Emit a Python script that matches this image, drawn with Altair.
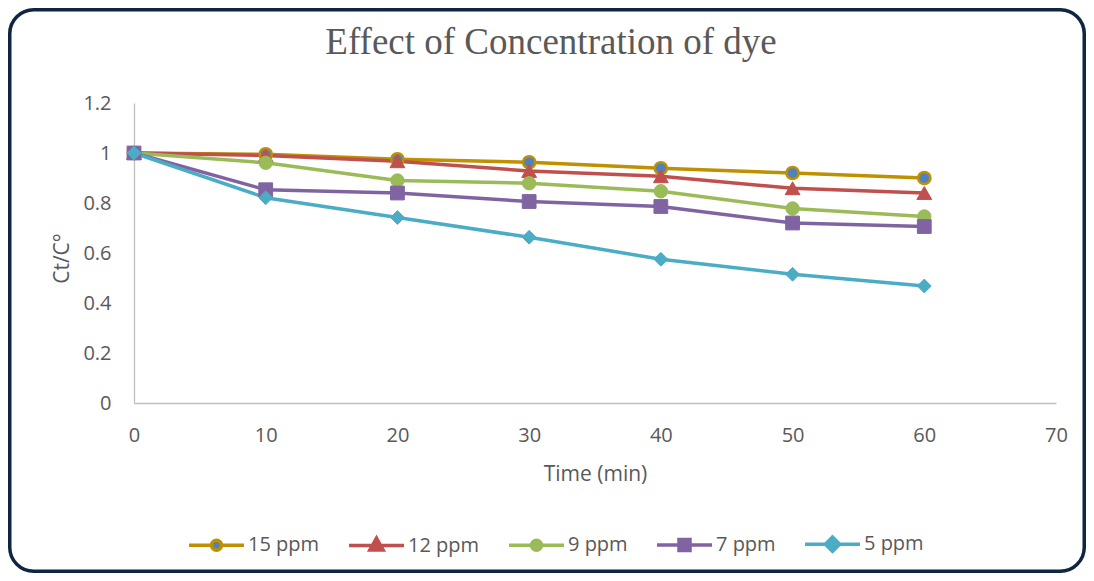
import altair as alt
import pandas as pd

# ---- data ----
times = [0, 10, 20, 30, 40, 50, 60]
series_names = ["15 ppm", "12 ppm", "9 ppm", "7 ppm", "5 ppm"]
c15 = [1.0, 0.995, 0.975, 0.963, 0.939, 0.920, 0.900]
c12 = [1.0, 0.990, 0.967, 0.928, 0.907, 0.859, 0.840]
c9 = [1.0, 0.961, 0.890, 0.879, 0.847, 0.778, 0.746]
c7 = [1.0, 0.853, 0.840, 0.806, 0.786, 0.720, 0.706]
c5 = [1.0, 0.821, 0.742, 0.663, 0.575, 0.515, 0.468]
x_ticks = [0, 10, 20, 30, 40, 50, 60, 70]
y_ticks = [0, 0.2, 0.4, 0.6, 0.8, 1.0, 1.2]

values = {"15 ppm": c15, "12 ppm": c12, "9 ppm": c9, "7 ppm": c7, "5 ppm": c5}
rows = []
for s in series_names:
    for t, v in zip(times, values[s]):
        rows.append({"series": s, "time": t, "value": v})
df = pd.DataFrame(rows)

# ---- styles ----
line_colors = ["#BF9000", "#C0504D", "#9BBB59", "#8064A2", "#4BACC6"]
fill_colors = ["#4F81BD", "#C0504D", "#9BBB59", "#8064A2", "#4BACC6"]
label_col = "#595959"
font = "Open Sans"

circ = "M-1,0L-0.18,0M0.18,0L1,0M-0.18,0A0.18,0.18 0 1,1 0.18,0A0.18,0.18 0 1,1 -0.18,0Z"
tri = "M-1,0L1,0M0,-0.27L-0.24,0.16L0.24,0.16Z"
sq = "M-1,0L1,0M-0.2,-0.2L0.2,-0.2L0.2,0.2L-0.2,0.2Z"
dia = "M-1,0L1,0M0,-0.26L0.26,0L0,0.26L-0.26,0Z"
legend_paths = [circ, tri, circ, sq, dia]

stroke_scale = alt.Scale(domain=series_names, range=line_colors)
fill_scale = alt.Scale(domain=series_names, range=fill_colors)
shape_scale = alt.Scale(domain=series_names, range=legend_paths)

W, H = 922, 300
PAD = {"left": 126, "top": 95, "right": 30, "bottom": 170}

leg = alt.Legend(title=None, orient="none", legendX=53, legendY=411.5,
                 direction="horizontal", columns=5, symbolSize=3025,
                 symbolStrokeWidth=3.5, labelFont=font, labelFontSize=20,
                 labelColor=label_col, labelOffset=2, columnPadding=22,
                 padding=0, symbolOpacity=1)

xenc = alt.X("time:Q", scale=alt.Scale(domain=[0, 70], nice=False),
             axis=alt.Axis(values=x_ticks, title="Time (min)", labelPadding=22,
                           labelFlush=False,
                           titleY=60, titleBaseline="top", titleFontSize=21))
yenc = alt.Y("value:Q", scale=alt.Scale(domain=[0, 1.2], nice=False),
             axis=alt.Axis(values=y_ticks, format="~g", title="Ct/C°", labelPadding=23,
                           labelFlush=False,
                           titleX=-66, titleY=155, titleAngle=270, titleAlign="center",
                           titleBaseline="alphabetic", titleFontSize=21))

frame = alt.Chart(alt.InlineData(values=[{"f": 1}])).mark_rect(
    cornerRadius=24, fillOpacity=0, fill="white", stroke="#10253F", strokeWidth=3.5
).encode(
    x=alt.value(-PAD["left"] + 1.75), x2=alt.value(W + PAD["right"] - 1.75),
    y=alt.value(-PAD["top"] + 1.75), y2=alt.value(H + PAD["bottom"] - 1.75),
)

lines = alt.Chart(df).mark_line(strokeWidth=3.5).encode(
    x=xenc, y=yenc,
    stroke=alt.Stroke("series:N", scale=stroke_scale, legend=leg),
    detail="series:N",
)

def pts(shape, names, size, sw):
    return alt.Chart(df).transform_filter(
        alt.FieldOneOfPredicate(field="series", oneOf=names)
    ).mark_point(filled=True, shape=shape, size=size, strokeWidth=sw, opacity=1).encode(
        x=xenc, y=yenc,
        fill=alt.Fill("series:N", scale=fill_scale, legend=leg),
        stroke=alt.Stroke("series:N", scale=stroke_scale, legend=leg),
    )

p15 = pts("circle", ["15 ppm"], 150, 2.5)
p9 = pts("circle", ["9 ppm"], 180, 1)
p12 = pts("triangle-up", ["12 ppm"], 220, 1)
p7 = pts("square", ["7 ppm"], 190, 1)
p5 = pts("diamond", ["5 ppm"], 190, 1)

legend_layer = alt.Chart(df).mark_point(
    filled=True, clip=True, size=3025, strokeWidth=3.5, opacity=1
).encode(
    x=alt.X("time:Q"),
    y=alt.YDatum(-1),
    fill=alt.Fill("series:N", scale=fill_scale, legend=leg),
    stroke=alt.Stroke("series:N", scale=stroke_scale, legend=leg),
    shape=alt.Shape("series:N", scale=shape_scale, legend=leg),
)

chart = alt.layer(frame, lines, p15, p12, p9, p7, p5, legend_layer).properties(
    width=W, height=H,
    padding=PAD,
    autosize=alt.AutoSizeParams(type="none"),
    title=alt.Title("Effect of Concentration of dye", font="Liberation Serif",
                    fontSize=37, fontWeight="normal", color=label_col,
                    anchor="middle", dx=-44, dy=83, offset=0, baseline="alphabetic"),
).configure_view(stroke=None).configure_axis(
    grid=False, ticks=False, tickSize=0, domainColor="#BFBFBF", domainWidth=1.3,
    labelFont=font, labelFontSize=20, labelColor=label_col,
    titleFont=font, titleColor=label_col, titleFontWeight="normal",
)

chart.save("out.html", embed_options={"renderer": "svg", "actions": False})
